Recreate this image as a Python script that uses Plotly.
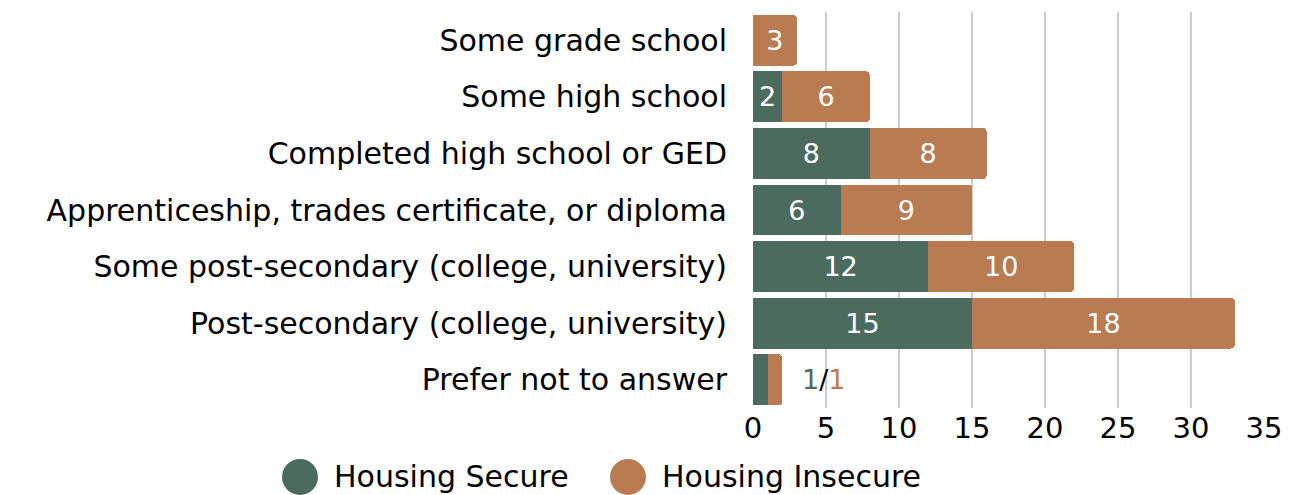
import plotly.graph_objects as go

categories = [
    "Some grade school",
    "Some high school",
    "Completed high school or GED",
    "Apprenticeship, trades certificate, or diploma",
    "Some post-secondary (college, university)",
    "Post-secondary (college, university)",
    "Prefer not to answer",
]
secure = [0, 2, 8, 6, 12, 15, 1]
insecure = [3, 6, 8, 9, 10, 18, 1]
x_ticks = [0, 5, 10, 15, 20, 25, 30, 35]

GREEN = "#4b6b5e"
ORANGE = "#b97b52"
FONT = "DejaVu Sans"

def inside_labels(vals, last_idx):
    return ["" if (v == 0 or i == last_idx) else str(v) for i, v in enumerate(vals)]

fig = go.Figure()
fig.add_trace(go.Bar(
    y=categories, x=secure, orientation="h", name="Housing Secure",
    marker=dict(color=GREEN, line=dict(width=0)),
    text=inside_labels(secure, len(categories) - 1), textposition="inside",
    insidetextanchor="middle", textfont=dict(color="white", size=27, family=FONT),
))
fig.add_trace(go.Bar(
    y=categories, x=insecure, orientation="h", name="Housing Insecure",
    marker=dict(color=ORANGE, line=dict(width=0)),
    text=inside_labels(insecure, len(categories) - 1), textposition="inside",
    insidetextanchor="middle", textfont=dict(color="white", size=27, family=FONT),
))

# outside label for the last row
last = len(categories) - 1
fig.add_annotation(
    x=secure[last] + insecure[last] + 1.2, y=categories[last], xref="x", yref="y",
    xanchor="left", yanchor="middle", showarrow=False,
    text=f"<span style='color:{GREEN}'>{secure[last]}</span>/<span style='color:{ORANGE}'>{insecure[last]}</span>",
    font=dict(size=27, family=FONT, color="black"),
)

# manual legend with circles
legend_items = [("Housing Secure", GREEN, -0.8865), ("Housing Insecure", ORANGE, -0.2446)]
for name, col, px in legend_items:
    fig.add_shape(type="circle", xref="paper", yref="paper", xsizemode="pixel", ysizemode="pixel",
                  xanchor=px, yanchor=-0.174, x0=-18, x1=18, y0=-18, y1=18,
                  fillcolor=col, line=dict(width=0))
    fig.add_annotation(x=px, y=-0.174, xref="paper", yref="paper", xshift=32,
                       xanchor="left", yanchor="middle", showarrow=False,
                       text=name, font=dict(size=30, family=FONT, color="black"))

fig.update_layout(
    width=1290, height=487,
    barmode="stack", bargap=0.1, barcornerradius=4,
    showlegend=False,
    plot_bgcolor="white", paper_bgcolor="white",
    margin=dict(l=745, r=34, t=4, b=87),
    font=dict(family=FONT, size=30, color="black"),
    xaxis=dict(range=[0, 35], tickvals=x_ticks, showgrid=True, gridcolor="#cccccc", gridwidth=2,
               zeroline=False, showline=False, tickfont=dict(size=29), ticks=""),
    yaxis=dict(autorange="reversed", showgrid=False, zeroline=False, showline=False,
               tickfont=dict(size=30), ticks="", ticklabelstandoff=25),
)

fig.write_html("out.html")
